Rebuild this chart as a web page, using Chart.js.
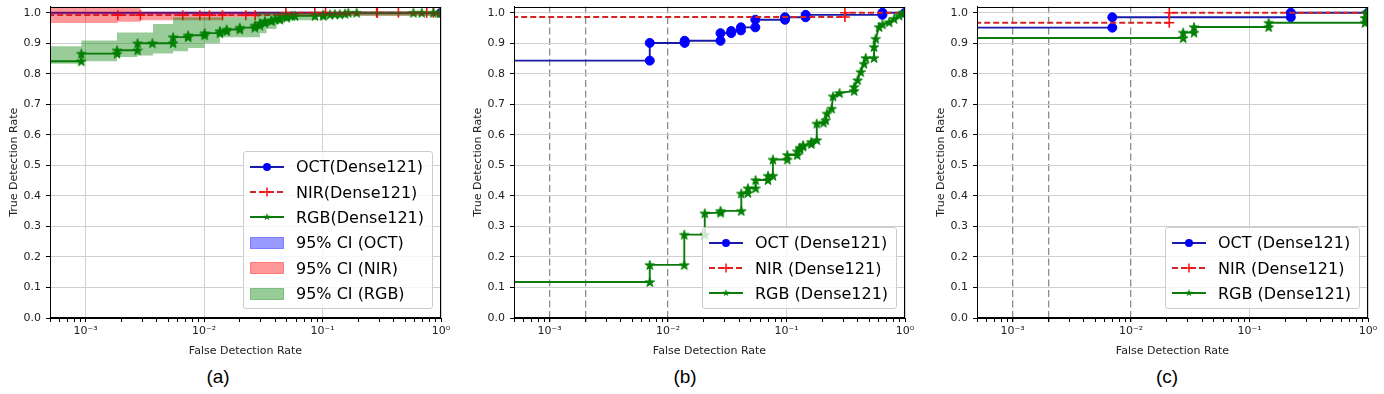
<!DOCTYPE html>
<html>
<head>
<meta charset="utf-8">
<script src="https://cdn.jsdelivr.net/npm/chart.js@4.4.1/dist/chart.umd.min.js"></script>
<style>
	body { margin: 0; background: #fff; }
	#wrap { position: relative; width: 1384px; height: 394px; overflow: hidden; font-family: "DejaVu Sans", sans-serif; }
	.panel { position: absolute; top: 0; width: 457px; height: 362px; }
	.panel canvas { position: absolute; left: 0; top: 0; }
	.legend { position: absolute; background: rgba(255,255,255,0.8); border: 1px solid #cccccc; border-radius: 3px; padding: 2px 8px 2px 6px; font-size: 16px; color: #000; }
	.legend .row { display: flex; align-items: center; height: 25.4px; white-space: nowrap; }
	.legend svg { margin-right: 12px; flex: none; }
	.caption { position: absolute; top: 366px; font: 19px "Liberation Sans", sans-serif; color: #000; transform: translateX(-50%); }
</style>
</head>
<body>
<div id="wrap">
	<div class="panel" style="left:0px"><canvas id="chartA" width="457" height="362"></canvas><div class="legend" id="legendA"></div></div>
	<div class="panel" style="left:464px"><canvas id="chartB" width="457" height="362"></canvas><div class="legend" id="legendB"></div></div>
	<div class="panel" style="left:927px"><canvas id="chartC" width="457" height="362"></canvas><div class="legend" id="legendC"></div></div>
	<div class="caption" style="left:218px">(a)</div>
	<div class="caption" style="left:685px">(b)</div>
	<div class="caption" style="left:1167px">(c)</div>
</div>
<script>
// axis ranges and ticks
var xMin = 5e-4, xMax = 1, yMax = 1.02;
var xMajorTicks = [1e-3, 1e-2, 1e-1, 1];
var xMajorLabels = ['10\u207B\u00B3', '10\u207B\u00B2', '10\u207B\u00B9', '10\u2070'];
var xMinorMantissas = [2, 3, 4, 5, 6, 7, 8, 9];
var refLinesBC = [1e-3, 2e-3, 1e-2];

var legendLabelsA = ['OCT(Dense121)', 'NIR(Dense121)', 'RGB(Dense121)', '95% CI (OCT)', '95% CI (NIR)', '95% CI (RGB)'];
var legendLabelsBC = ['OCT (Dense121)', 'NIR (Dense121)', 'RGB (Dense121)'];

// (fpr, tpr) points; first point stands for fpr = 0, left of the axis
var octA = [[1e-4, 1.0], [1.0, 1.0]];
var nirA = [[1e-4, 0.992], [0.00187, 0.992], [0.0029, 0.992], [0.0066, 0.992], [0.0092, 0.992], [0.0111, 0.992], [0.0143, 0.992],
	[0.0225, 0.992], [0.027, 0.992], [0.049, 0.992], [0.049, 1.0], [0.086, 1.0], [0.106, 1.0], [0.286, 1.0], [0.29, 1.0],
	[0.437, 1.0], [0.758, 1.0], [0.863, 1.0], [0.98, 1.0], [1.0, 1.0]];
var rgbA = [[1e-4, 0.841], [0.00092, 0.841], [0.00092, 0.866], [0.00184, 0.866], [0.00184, 0.877], [0.00274, 0.877], [0.00274, 0.900],
	[0.00366, 0.900], [0.00547, 0.900], [0.00547, 0.920], [0.00733, 0.920], [0.00733, 0.926], [0.0101, 0.926], [0.0101, 0.933],
	[0.0136, 0.933], [0.0136, 0.940], [0.0155, 0.940], [0.0155, 0.945], [0.020, 0.945], [0.020, 0.951], [0.0268, 0.951],
	[0.0268, 0.958], [0.0296, 0.958], [0.0296, 0.966], [0.0326, 0.966], [0.0326, 0.973], [0.037, 0.973], [0.037, 0.975],
	[0.0395, 0.978], [0.0436, 0.978], [0.0436, 0.984], [0.0497, 0.984], [0.0497, 0.988], [0.055, 0.990], [0.0585, 0.990],
	[0.0863, 0.990], [0.1014, 0.990], [0.1014, 0.993], [0.1156, 0.994], [0.127, 0.995], [0.14, 0.995], [0.155, 0.997],
	[0.165, 1.0], [0.194, 1.0], [0.585, 1.0], [0.688, 1.0], [0.863, 1.0], [0.98, 1.0], [1.0, 1.0]];

// 95% CI bands for (a), stepped after each x
var octBandX = [1e-4, 1.0];
var octBandLo = [0.995, 0.995];
var octBandHi = [1.0, 1.0];
var nirBandX = [1e-4, 0.00187, 0.0029, 0.0143, 0.0296, 0.049, 1.0];
var nirBandLo = [0.958, 0.966, 0.970, 0.975, 0.985, 0.990, 0.990];
var nirBandHi = [1.02, 1.02, 1.02, 1.003, 1.003, 1.003, 1.003];
var rgbBandX = [1e-4, 0.00092, 0.00184, 0.00274, 0.0037, 0.00547, 0.00733, 0.0101, 0.0136, 0.0277, 0.0296, 0.0337, 0.0409, 0.0466, 0.0891, 0.1706, 1.0];
var rgbBandLo = [0.817, 0.833, 0.841, 0.855, 0.860, 0.866, 0.874, 0.884, 0.900, 0.920, 0.920, 0.933, 0.947, 0.964, 0.975, 0.990, 0.990];
var rgbBandHi = [0.866, 0.890, 0.909, 0.935, 0.935, 0.963, 0.985, 0.985, 0.985, 0.985, 1.0, 1.0, 1.0, 1.0, 1.0, 1.0, 1.0];

var octB = [[1e-4, 0.843], [0.0070, 0.843], [0.0070, 0.901], [0.0138, 0.901], [0.0138, 0.908], [0.0277, 0.908], [0.0277, 0.933],
	[0.0341, 0.933], [0.0341, 0.940], [0.0412, 0.942], [0.0412, 0.952], [0.0545, 0.952], [0.0545, 0.977], [0.097, 0.977],
	[0.097, 0.985], [0.145, 0.985], [0.145, 0.993], [0.645, 0.993], [0.645, 1.0], [1.0, 1.0]];
var nirB = [[1e-4, 0.986], [0.311, 0.986], [0.311, 1.0], [1.0, 1.0]];
var rgbB = [[1e-4, 0.118], [0.0070, 0.118], [0.0070, 0.174], [0.0137, 0.174], [0.0137, 0.273], [0.0204, 0.273], [0.0204, 0.343],
	[0.0277, 0.345], [0.0277, 0.351], [0.0415, 0.351], [0.0415, 0.408], [0.0472, 0.410], [0.0472, 0.425], [0.0548, 0.425],
	[0.0548, 0.452], [0.0697, 0.452], [0.0697, 0.466], [0.0767, 0.466], [0.0767, 0.519], [0.1016, 0.519], [0.1016, 0.534],
	[0.123, 0.534], [0.123, 0.546], [0.130, 0.552], [0.130, 0.558], [0.138, 0.562], [0.138, 0.566], [0.162, 0.570],
	[0.162, 0.577], [0.180, 0.583], [0.180, 0.637], [0.205, 0.640], [0.214, 0.648], [0.219, 0.670], [0.240, 0.686],
	[0.247, 0.726], [0.280, 0.737], [0.372, 0.744], [0.372, 0.757], [0.398, 0.779], [0.423, 0.806], [0.451, 0.833],
	[0.466, 0.852], [0.548, 0.852], [0.548, 0.888], [0.566, 0.915], [0.604, 0.953], [0.645, 0.962], [0.735, 0.969],
	[0.809, 0.980], [0.892, 0.991], [0.984, 1.0], [1.0, 1.0]];

var octC = [[1e-4, 0.951], [0.00694, 0.951], [0.00694, 0.985], [0.223, 0.985], [0.223, 1.0], [1.0, 1.0]];
var nirC = [[1e-4, 0.967], [0.021, 0.967], [0.021, 1.0], [1.0, 1.0]];
var rgbC = [[1e-4, 0.917], [0.0275, 0.917], [0.0275, 0.935], [0.034, 0.935], [0.034, 0.953], [0.145, 0.953], [0.145, 0.967],
	[0.944, 0.967], [0.944, 0.983], [0.97, 0.983], [0.97, 1.0], [1.0, 1.0]];

var styles = {
	oct: { line: '#1a1aa8', point: '#0000ff', marker: 'circle', radius: 4.5, dash: null, band: 'rgba(0,0,255,0.4)' },
	nir: { line: '#d42424', point: '#ff1010', marker: 'cross', radius: 5, dash: [6, 3], band: 'rgba(255,0,0,0.4)' },
	rgb: { line: '#0c7a0c', point: '#008000', marker: 'star', radius: 5, dash: null, band: 'rgba(0,128,0,0.4)' }
};

var tickFont = { family: 'DejaVu Sans', size: 11 };
var textColor = '#222';

function starVertices(cx, cy, r) {
	var pts = [];
	for (var i = 0; i < 10; i++) {
		var rr = i % 2 ? r * 0.382 : r;
		var a = -Math.PI / 2 + i * Math.PI / 5;
		pts.push([cx + rr * Math.cos(a), cy + rr * Math.sin(a) + r * 0.1]);
	}
	return pts;
}

function starMarker(r, color) {
	var size = Math.ceil(r * 2 + 2);
	var c = document.createElement('canvas');
	c.width = size;
	c.height = size;
	var g = c.getContext('2d');
	g.fillStyle = color;
	g.strokeStyle = color;
	g.lineWidth = 1;
	g.beginPath();
	starVertices(size / 2, size / 2, r).forEach(function (p) { g.lineTo(p[0], p[1]); });
	g.closePath();
	g.fill();
	g.stroke();
	return c;
}

function toXY(pairs) {
	return pairs.map(function (p) { return { x: p[0], y: p[1] }; });
}

function bandXY(xs, ys) {
	return xs.map(function (x, i) { return { x: x, y: ys[i] }; });
}

function isMajor(v) {
	return xMajorTicks.some(function (m) { return Math.abs(v / m - 1) < 1e-6; });
}

function isRefLine(v, refs) {
	return refs.some(function (m) { return Math.abs(v / m - 1) < 1e-6; });
}

function lineDataset(label, pairs, st, order) {
	return {
		label: label,
		data: toXY(pairs),
		order: order,
		borderColor: st.line,
		borderWidth: 1.9,
		borderDash: st.dash || [],
		pointStyle: st.marker === 'star' ? starMarker(st.radius, st.point) : st.marker,
		pointRadius: st.radius,
		pointBackgroundColor: st.point,
		pointBorderColor: st.point,
		pointBorderWidth: st.marker === 'cross' ? 1.6 : 1,
		fill: false,
		tension: 0
	};
}

function bandDatasets(xs, lo, hi, color, order) {
	return [{
		label: 'lo',
		data: bandXY(xs, lo),
		order: order,
		stepped: 'after',
		borderWidth: 0,
		pointRadius: 0,
		fill: false
	}, {
		label: 'hi',
		data: bandXY(xs, hi),
		order: order,
		stepped: 'after',
		borderWidth: 0,
		pointRadius: 0,
		backgroundColor: color,
		fill: '-1'
	}];
}

var framePlugin = {
	id: 'frame',
	afterDatasetsDraw: function (chart) {
		var a = chart.chartArea, ctx = chart.ctx;
		ctx.save();
		ctx.strokeStyle = '#000';
		ctx.lineWidth = 1;
		ctx.strokeRect(Math.round(a.left) + 0.5, Math.round(a.top) + 0.5, Math.round(a.right - a.left) - 1, Math.round(a.bottom - a.top) - 1);
		ctx.restore();
	}
};

function sampleSvg(st, patch) {
	var s = '<svg width="34" height="14" viewBox="0 0 34 14">';
	if (patch) {
		s += '<rect x="0.5" y="1.5" width="33" height="11" fill="' + st.band + '" stroke="' + st.band + '"/>';
	} else {
		s += '<line x1="0" y1="7" x2="34" y2="7" stroke="' + st.line + '" stroke-width="1.9"' +
			(st.dash ? ' stroke-dasharray="' + st.dash.join(',') + '"' : '') + '/>';
		if (st.marker === 'circle') s += '<circle cx="17" cy="7" r="4" fill="' + st.point + '"/>';
		if (st.marker === 'cross') s += '<path d="M12.5 7H21.5M17 2.5V11.5" stroke="' + st.point + '" stroke-width="1.5"/>';
		if (st.marker === 'star') {
			s += '<polygon points="' + starVertices(17, 6.6, 4).map(function (p) { return p[0].toFixed(2) + ',' + p[1].toFixed(2); }).join(' ') +
				'" fill="' + st.point + '"/>';
		}
	}
	return s + '</svg>';
}

function buildLegend(el, chart, labels, withBands) {
	var keys = ['oct', 'nir', 'rgb'];
	var html = '';
	keys.forEach(function (k, i) {
		html += '<div class="row">' + sampleSvg(styles[k], false) + '<span>' + labels[i] + '</span></div>';
	});
	if (withBands) {
		keys.forEach(function (k, i) {
			html += '<div class="row">' + sampleSvg(styles[k], true) + '<span>' + labels[i + 3] + '</span></div>';
		});
	}
	el.innerHTML = html;
	var a = chart.chartArea;
	el.style.left = (a.right - 8 - el.offsetWidth) + 'px';
	el.style.top = (a.bottom - 9 - el.offsetHeight) + 'px';
}

function makeChart(canvasId, legendId, oct, nir, rgb, bands, refs, labels) {
	var datasets = [
		lineDataset(labels[0], oct, styles.oct, 6),
		lineDataset(labels[1], nir, styles.nir, 5),
		lineDataset(labels[2], rgb, styles.rgb, 4)
	];
	if (bands) {
		datasets = datasets
			.concat(bandDatasets(octBandX, octBandLo, octBandHi, styles.oct.band, 3))
			.concat(bandDatasets(nirBandX, nirBandLo, nirBandHi, styles.nir.band, 2))
			.concat(bandDatasets(rgbBandX, rgbBandLo, rgbBandHi, styles.rgb.band, 1));
	}

	var chart = new Chart(document.getElementById(canvasId), {
		type: 'line',
		data: { datasets: datasets },
		plugins: [framePlugin],
		options: {
			responsive: false,
			animation: false,
			events: [],
			layout: { padding: { top: 6, right: 16, left: 0, bottom: 0 } },
			plugins: { legend: { display: false }, tooltip: { enabled: false } },
			scales: {
				x: {
					type: 'logarithmic',
					min: xMin,
					max: xMax,
					afterBuildTicks: function (scale) {
						var ticks = [];
						[1e-4, 1e-3, 1e-2, 1e-1].forEach(function (d) {
							[1].concat(xMinorMantissas).forEach(function (m) {
								var v = parseFloat((m * d).toPrecision(3));
								if (v >= xMin && v <= xMax) ticks.push({ value: v, major: isMajor(v) });
							});
						});
						ticks.push({ value: 1, major: true });
						scale.ticks = ticks;
					},
					afterFit: function (scale) {
						scale.height = 44;
						scale.paddingLeft = 0;
						scale.paddingRight = 0;
					},
					ticks: {
						autoSkip: false,
						maxRotation: 0,
						padding: 3,
						font: tickFont,
						color: textColor,
						callback: function (v) {
							for (var i = 0; i < xMajorTicks.length; i++) {
								if (Math.abs(v / xMajorTicks[i] - 1) < 1e-6) return xMajorLabels[i];
							}
							return '';
						}
					},
					grid: {
						color: function (ctx) {
							if (!ctx.tick) return 'transparent';
							if (isRefLine(ctx.tick.value, refs)) return '#8c8c8c';
							return isMajor(ctx.tick.value) ? '#d0d0d0' : 'transparent';
						},
						lineWidth: function (ctx) {
							return ctx.tick && isRefLine(ctx.tick.value, refs) ? 1.3 : 1;
						},
						tickLength: 4,
						tickColor: '#000'
					},
					border: {
						display: true,
						color: '#000',
						dash: function (ctx) {
							return ctx.tick && isRefLine(ctx.tick.value, refs) ? [7, 3.5] : [];
						}
					},
					title: { display: true, text: 'False Detection Rate', font: tickFont, color: textColor, padding: { top: 0, bottom: 4 } }
				},
				y: {
					min: 0,
					max: yMax,
					afterFit: function (scale) {
						scale.width = 50;
						scale.paddingTop = 0;
						scale.paddingBottom = 0;
					},
					ticks: {
						stepSize: 0.1,
						includeBounds: false,
						padding: 5,
						font: tickFont,
						color: textColor,
						callback: function (v) { return v.toFixed(1); }
					},
					grid: { color: '#d0d0d0', tickLength: 4, tickColor: '#000' },
					border: { color: '#000' },
					title: { display: true, text: 'True Detection Rate', font: tickFont, color: textColor, padding: { top: 8, bottom: 0 } }
				}
			}
		}
	});
	buildLegend(document.getElementById(legendId), chart, labels, bands);
	return chart;
}

makeChart('chartA', 'legendA', octA, nirA, rgbA, true, [], legendLabelsA);
makeChart('chartB', 'legendB', octB, nirB, rgbB, false, refLinesBC, legendLabelsBC);
makeChart('chartC', 'legendC', octC, nirC, rgbC, false, refLinesBC, legendLabelsBC);
</script>
</body>
</html>
